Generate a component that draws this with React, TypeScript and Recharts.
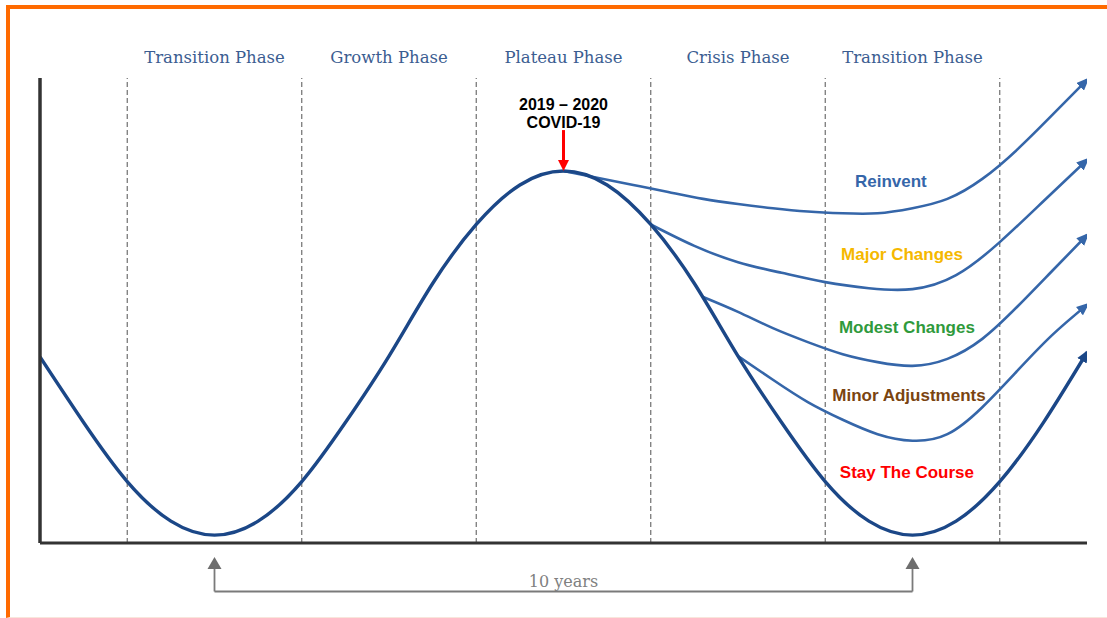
import React from 'react';
import { LineChart, Line, XAxis, YAxis, ReferenceLine, ReferenceDot } from 'recharts';

// ---- data (years on x, relative level 0-100 on y) ----
const MAIN_T = [0, 0.625, 1.25, 1.875, 2.5, 3.125, 3.75, 4.375, 5, 5.625, 6.25, 6.875, 7.5, 8.125, 8.75, 9.375, 10, 10.625, 11.25, 11.875, 12.5, 13.125, 13.75, 14.375, 15];
const MAIN_V = [40.0, 25.9, 13.2, 4.7, 1.7, 4.7, 13.2, 25.9, 40.2, 55.8, 68.5, 77.0, 80.0, 77.0, 68.5, 55.8, 40.2, 25.9, 13.2, 4.7, 1.7, 4.7, 13.2, 25.9, 41.0];

const REINVENT_T = [7.5, 8.0, 8.5, 9.0, 9.5, 10.0, 10.5, 11.0, 11.5, 12.0, 12.5, 13.0, 13.5, 14.0, 14.5, 15.0];
const REINVENT_V = [80.0, 78.5, 77.0, 75.5, 74.0, 72.9, 72.0, 71.3, 70.9, 70.9, 72.0, 74.0, 78.3, 84.6, 92.0, 99.6];

const MAJOR_T = [8.75, 9.375, 10.0, 10.625, 11.25, 11.875, 12.5, 13.125, 13.75, 14.375, 15.0];
const MAJOR_V = [68.5, 63.9, 60.4, 58.1, 56.1, 54.8, 54.6, 57.6, 64.7, 73.5, 82.4];

const MODEST_T = [9.5, 10.0, 10.5, 11.0, 11.5, 12.0, 12.5, 13.0, 13.5, 14.0, 14.5, 15.0];
const MODEST_V = [52.9, 49.7, 46.2, 43.2, 40.6, 38.9, 38.1, 39.6, 43.9, 50.8, 58.5, 66.2];

const MINOR_T = [10.0, 10.5, 11.0, 11.5, 12.0, 12.5, 13.0, 13.5, 14.0, 14.5, 15.0];
const MINOR_V = [40.2, 35.1, 30.3, 26.5, 23.4, 22.0, 23.4, 29.2, 37.0, 44.7, 51.2];

const PHASE_NAMES = ['Transition Phase', 'Growth Phase', 'Plateau Phase', 'Crisis Phase', 'Transition Phase'];
const PHASE_CENTERS = [2.5, 5, 7.5, 10, 12.5];
const PHASE_BOUNDS = [1.25, 3.75, 6.25, 8.75, 11.25, 13.75];

const BRANCH_NAMES = ['Reinvent', 'Major Changes', 'Modest Changes', 'Minor Adjustments', 'Stay The Course'];
const BRANCH_COLORS = ['#3566a9', '#f5b800', '#2f9a3c', '#7a4410', '#ff0000'];

const COVID_LINES = ['2019 \u2013 2020', 'COVID-19'];
const PERIOD_LABEL = '10 years';
const PERIOD_START = 2.5;
const PERIOD_END = 12.5;
const COVID_AT = 7.5;

// annotation anchors (positions, kept apart from data)
const BRANCH_LABEL_T = [12.19, 12.35, 12.42, 12.45, 12.42];
const BRANCH_LABEL_V = [76.6, 60.9, 45.2, 30.5, 14.0];

const toRows = (ts: number[], vs: number[]) => ts.map((t, i) => ({ t, v: vs[i] }));
const mainData = toRows(MAIN_T, MAIN_V);
const reinventData = toRows(REINVENT_T, REINVENT_V);
const majorData = toRows(MAJOR_T, MAJOR_V);
const modestData = toRows(MODEST_T, MODEST_V);
const minorData = toRows(MINOR_T, MINOR_V);

const NAVY = '#1b4787';
const BLUE = '#3566a9';
const GRAY = '#7a7a7a';

export default function App() {
  return (
    <div style={{ position: 'absolute', left: 0, top: 0, width: 1107, height: 618, background: '#fff', overflow: 'hidden' }}>
      <div
        style={{
          position: 'absolute', left: 6, top: 5, width: 1101, height: 613, boxSizing: 'border-box',
          borderTop: '4px solid #ff6a00', borderLeft: '4px solid #ff6a00', borderBottom: '1px solid #f8e6dc',
        }}
      />
      <div style={{ position: 'absolute', left: 0, top: 0 }}>
        <LineChart width={1107} height={618} margin={{ top: 48, right: 20, bottom: 74, left: 39 }}>
          <defs>
            <marker id="arrBlue" viewBox="0 0 12 10" refX="9" refY="5" markerWidth="13" markerHeight="11" markerUnits="userSpaceOnUse" orient="auto">
              <path d="M0,0 L12,5 L0,10 z" fill={BLUE} />
            </marker>
            <marker id="arrNavy" viewBox="0 0 12 10" refX="9" refY="5" markerWidth="13" markerHeight="11" markerUnits="userSpaceOnUse" orient="auto">
              <path d="M0,0 L12,5 L0,10 z" fill={NAVY} />
            </marker>
          </defs>
          <XAxis
            xAxisId="top"
            orientation="top"
            dataKey="t"
            type="number"
            domain={[0, 15]}
            allowDataOverflow
            ticks={PHASE_CENTERS}
            tickFormatter={(v: number) => PHASE_NAMES[PHASE_CENTERS.indexOf(v)] || ''}
            height={30}
            axisLine={false}
            tickLine={false}
            tickSize={0}
            tickMargin={15}
            interval={0}
            tick={{ fill: '#3b5d91', fontSize: 16.5, fontFamily: 'DejaVu Serif' }}
          />
          <XAxis
            dataKey="t"
            type="number"
            domain={[0, 15]}
            allowDataOverflow
            height={1}
            tick={false}
            tickLine={false}
            axisLine={{ stroke: '#333', strokeWidth: 3 }}
          />
          <YAxis
            type="number"
            domain={[0, 100]}
            allowDataOverflow
            width={1}
            tick={false}
            tickLine={false}
            axisLine={{ stroke: '#333', strokeWidth: 3.5 }}
          />
          {PHASE_BOUNDS.map((b) => (
            <ReferenceLine key={'b' + b} x={b} stroke="#6f6f6f" strokeWidth={1.2} strokeDasharray="5 3" />
          ))}

          <Line data={reinventData} dataKey="v" type="natural" stroke={BLUE} strokeWidth={2.6} dot={false} activeDot={false} isAnimationActive={false} markerEnd="url(#arrBlue)" />
          <Line data={majorData} dataKey="v" type="natural" stroke={BLUE} strokeWidth={2.6} dot={false} activeDot={false} isAnimationActive={false} markerEnd="url(#arrBlue)" />
          <Line data={modestData} dataKey="v" type="natural" stroke={BLUE} strokeWidth={2.6} dot={false} activeDot={false} isAnimationActive={false} markerEnd="url(#arrBlue)" />
          <Line data={minorData} dataKey="v" type="natural" stroke={BLUE} strokeWidth={2.6} dot={false} activeDot={false} isAnimationActive={false} markerEnd="url(#arrBlue)" />
          <Line xAxisId="top" data={mainData} dataKey="v" type="natural" stroke={NAVY} strokeWidth={3.4} dot={false} activeDot={false} isAnimationActive={false} markerEnd="url(#arrNavy)" />

          {BRANCH_NAMES.map((name, i) => (
            <ReferenceDot
              key={name}
              x={BRANCH_LABEL_T[i]}
              y={BRANCH_LABEL_V[i]}
              r={0}
              ifOverflow="visible"
              shape={(p: any) => (
                <text x={p.cx} y={p.cy} textAnchor="middle" fill={BRANCH_COLORS[i]} fontSize={17} fontWeight="bold" fontFamily="Liberation Sans, Arial, sans-serif">
                  {name}
                </text>
              )}
            />
          ))}

          {/* COVID marker */}
          <ReferenceLine segment={[{ x: COVID_AT, y: 88.8 }, { x: COVID_AT, y: 81.9 }]} stroke="#ff0000" strokeWidth={3} ifOverflow="visible" />
          <ReferenceDot
            x={COVID_AT}
            y={80}
            r={0}
            ifOverflow="visible"
            shape={(p: any) => (
              <polygon points={`${p.cx},${p.cy} ${p.cx - 5.5},${p.cy - 11} ${p.cx + 5.5},${p.cy - 11}`} fill="#ff0000" />
            )}
          />
          <ReferenceDot
            x={COVID_AT}
            y={93.1}
            r={0}
            ifOverflow="visible"
            shape={(p: any) => (
              <text x={p.cx} y={p.cy} textAnchor="middle" fill="#000" fontSize={16} fontWeight="bold" fontFamily="Liberation Sans, Arial, sans-serif">
                <tspan x={p.cx}>{COVID_LINES[0]}</tspan>
                <tspan x={p.cx} dy={18}>{COVID_LINES[1]}</tspan>
              </text>
            )}
          />

          {/* 10 years bracket */}
          <ReferenceLine segment={[{ x: PERIOD_START, y: -10.43 }, { x: PERIOD_END, y: -10.43 }]} stroke={GRAY} strokeWidth={1.8} ifOverflow="visible" />
          <ReferenceLine segment={[{ x: PERIOD_START, y: -10.43 }, { x: PERIOD_START, y: -5.4 }]} stroke={GRAY} strokeWidth={1.8} ifOverflow="visible" />
          <ReferenceLine segment={[{ x: PERIOD_END, y: -10.43 }, { x: PERIOD_END, y: -5.4 }]} stroke={GRAY} strokeWidth={1.8} ifOverflow="visible" />
          {[PERIOD_START, PERIOD_END].map((x) => (
            <ReferenceDot
              key={'a' + x}
              x={x}
              y={-3.0}
              r={0}
              ifOverflow="visible"
              shape={(p: any) => (
                <polygon points={`${p.cx},${p.cy} ${p.cx - 7},${p.cy + 12} ${p.cx + 7},${p.cy + 12}`} fill="#6e6e6e" />
              )}
            />
          ))}
          <ReferenceDot
            x={(PERIOD_START + PERIOD_END) / 2}
            y={-9.46}
            r={0}
            ifOverflow="visible"
            shape={(p: any) => (
              <text x={p.cx} y={p.cy} textAnchor="middle" fill="#808080" fontSize={16} fontFamily="DejaVu Serif">
                {PERIOD_LABEL}
              </text>
            )}
          />
        </LineChart>
      </div>
    </div>
  );
}
